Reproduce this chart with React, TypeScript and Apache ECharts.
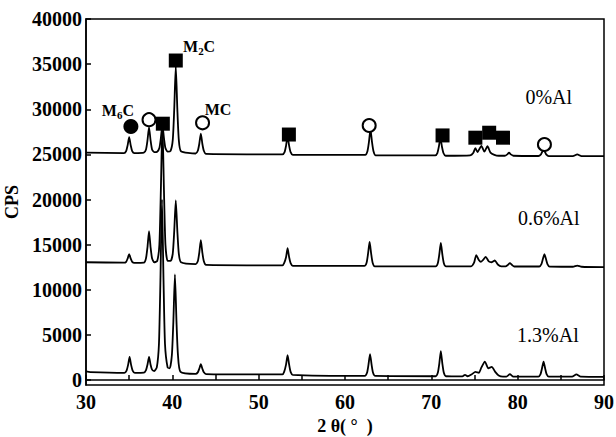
import React, { useEffect, useRef } from "react";
import * as echarts from "echarts";

// 2θ (°) vs CPS
const trace0Al: [number, number][] = [
  [30, 25200], [34.4, 25150], [34.65, 25370], [34.82, 26000], [35.0, 26900], [35.18, 26000], [35.35, 25370], [35.6, 25150],
  [36.7, 25200], [36.95, 25550], [37.12, 26550], [37.3, 28000], [37.48, 26550], [37.65, 25550], [37.9, 25250],
  [38.25, 25300], [38.5, 25700], [38.67, 26800], [38.85, 28300], [39.03, 26800], [39.2, 25700], [39.45, 25300],
  [39.8, 25400], [40.05, 26600], [40.22, 30000], [40.4, 34800], [40.58, 30000], [40.75, 26600], [41.0, 25350],
  [42.7, 25100], [42.95, 25400], [43.12, 26150], [43.3, 27300], [43.48, 26150], [43.65, 25400], [43.9, 25050],
  [52.75, 25000], [53.0, 25250], [53.17, 25950], [53.35, 26950], [53.53, 25950], [53.7, 25250], [53.95, 24950],
  [62.35, 24950], [62.6, 25350], [62.77, 26350], [62.95, 27800], [63.13, 26350], [63.3, 25350], [63.55, 24900],
  [70.45, 24900], [70.7, 25150], [70.87, 25850], [71.05, 26800], [71.23, 25850], [71.4, 25150], [71.65, 24850],
  [74.5, 24900], [74.85, 25150], [75.1, 25700], [75.35, 25250], [75.8, 25950], [76.15, 25300], [76.5, 25900],
  [76.85, 25200], [77.3, 24950], [77.8, 24850],
  [78.5, 24850], [78.8, 25000], [79.0, 25200], [79.2, 25000], [79.5, 24850],
  [82.4, 24820], [82.7, 25000], [82.85, 25300], [83.0, 25500], [83.15, 25300], [83.3, 25000], [83.6, 24800],
  [86.4, 24800], [86.9, 25000], [87.4, 24800], [90, 24800],
];

const trace06Al: [number, number][] = [
  [30, 13050], [34.4, 13000], [34.65, 13100], [34.82, 13450], [35.0, 13950], [35.18, 13450], [35.35, 13100], [35.6, 12980],
  [36.7, 13000], [36.95, 13500], [37.12, 14700], [37.3, 16500], [37.48, 14700], [37.65, 13500], [37.9, 13050],
  [38.25, 13200], [38.5, 15000], [38.67, 21000], [38.85, 28500], [39.03, 21000], [39.2, 15000], [39.45, 13200],
  [39.8, 13200], [40.05, 14000], [40.22, 16500], [40.4, 19900], [40.58, 16500], [40.75, 14000], [41.0, 13050],
  [42.7, 12850], [42.95, 13150], [43.12, 14100], [43.3, 15500], [43.48, 14100], [43.65, 13150], [43.9, 12750],
  [52.75, 12700], [52.95, 12950], [53.17, 13600], [53.35, 14600], [53.53, 13600], [53.7, 12950], [53.95, 12650],
  [62.25, 12650], [62.5, 13000], [62.67, 14000], [62.85, 15300], [63.03, 14000], [63.2, 13000], [63.45, 12600],
  [70.5, 12600], [70.75, 12950], [70.92, 13900], [71.1, 15200], [71.28, 13900], [71.45, 12950], [71.7, 12600],
  [74.6, 12600], [74.95, 13000], [75.2, 13850], [75.5, 13300], [75.75, 13100], [76.0, 13300], [76.3, 13650],
  [76.65, 13150], [77.0, 13050], [77.35, 13250], [77.7, 12800], [78.1, 12600],
  [78.6, 12600], [78.85, 12750], [79.1, 12950], [79.35, 12750], [79.6, 12580],
  [82.5, 12580], [82.75, 12850], [82.92, 13400], [83.1, 13950], [83.28, 13400], [83.45, 12850], [83.7, 12560],
  [86.4, 12550], [86.9, 12680], [87.4, 12550], [90, 12500],
];

const trace13Al: [number, number][] = [
  [30, 950], [30.5, 880], [34.45, 800], [34.7, 1050], [34.87, 1650], [35.05, 2550], [35.23, 1650], [35.4, 1050], [35.65, 800],
  [36.7, 820], [36.95, 1100], [37.12, 1700], [37.3, 2550], [37.48, 1700], [37.65, 1150], [37.9, 1000],
  [38.2, 1400], [38.45, 4000], [38.62, 11000], [38.8, 20000], [38.98, 11000], [39.15, 4000], [39.45, 1400],
  [39.7, 1300], [39.95, 2800], [40.12, 6500], [40.3, 11700], [40.48, 6500], [40.65, 2800], [40.95, 900],
  [42.7, 680], [42.95, 850], [43.12, 1250], [43.3, 1770], [43.48, 1250], [43.65, 850], [43.9, 660],
  [52.75, 620], [52.95, 900], [53.17, 1700], [53.35, 2750], [53.53, 1700], [53.7, 900], [53.95, 580],
  [62.3, 460], [62.55, 800], [62.72, 1700], [62.9, 2880], [63.08, 1700], [63.25, 800], [63.5, 450],
  [70.5, 420], [70.75, 800], [70.92, 1800], [71.1, 3200], [71.28, 1800], [71.45, 800], [71.7, 420],
  [73.6, 400], [73.9, 580], [74.2, 420], [74.7, 650], [75.1, 900], [75.5, 800], [75.8, 1400], [76.2, 2050],
  [76.6, 1300], [77.0, 1450], [77.4, 900], [77.8, 500], [78.3, 380],
  [78.7, 380], [79.1, 650], [79.5, 380],
  [82.4, 380], [82.65, 650], [82.82, 1300], [83.0, 2050], [83.18, 1300], [83.35, 650], [83.6, 380],
  [86.3, 380], [86.8, 620], [87.3, 380], [90, 350],
];

// phase markers
const m6cPoints: [number, number][] = [[35.2, 28100]];
const mcPoints: [number, number][] = [[37.3, 28850], [43.5, 28500], [62.8, 28200], [83.1, 26100]];
const m2cPoints: [number, number][] = [
  [38.9, 28400], [40.4, 35400], [53.5, 27200], [71.3, 27100],
  [75.1, 26850], [78.3, 26850], [76.7, 27400],
];

// annotation labels
const phaseLabels: { pos: [number, number]; text: string }[] = [
  { pos: [33.7, 29900], text: "{a|M}{s|6}{a|C}" },
  { pos: [43.1, 36900], text: "{a|M}{s|2}{a|C}" },
  { pos: [45.3, 30000], text: "{a|MC}" },
];
const traceLabels: { pos: [number, number]; text: string }[] = [
  { pos: [83.6, 31350], text: "0%Al" },
  { pos: [83.6, 17950], text: "0.6%Al" },
  { pos: [83.5, 4990], text: "1.3%Al" },
];

const yTicks = [0, 5000, 10000, 15000, 20000, 25000, 30000, 35000, 40000];

const FONT = "'Liberation Serif', 'DejaVu Serif', serif";

export default function App() {
  const ref = useRef<HTMLDivElement>(null);
  useEffect(() => {
    if (!ref.current) return;
    const chart = echarts.init(ref.current, undefined, { renderer: "svg" });
    const lineSeries = (data: [number, number][]) => ({
      type: "line",
      data,
      showSymbol: false,
      smooth: 0.2,
      lineStyle: { color: "#000", width: 1.8 },
      z: 2,
    });
    chart.setOption({
      animation: false,
      backgroundColor: "#fff",
      textStyle: { fontFamily: FONT },
      grid: {
        left: 86, right: 12, top: 19, bottom: 52,
        outerBoundsMode: "none",
        containLabel: false,
        show: true, borderColor: "#000", borderWidth: 1.5,
      },
      xAxis: {
        type: "value",
        min: 30, max: 90, interval: 5,
        name: "2 θ( °  )",
        nameLocation: "middle",
        nameGap: 27,
        nameTextStyle: { fontFamily: FONT, fontSize: 18, fontWeight: "bold", color: "#000" },
        axisLine: { lineStyle: { color: "#000", width: 1.5 } },
        axisTick: { show: true, inside: true, length: 5, lineStyle: { color: "#000", width: 1.5 } },
        axisLabel: {
          fontFamily: FONT, fontSize: 20, fontWeight: "bold", color: "#000", margin: 7,
          formatter: (v: number) => (v % 10 === 0 ? String(v) : ""),
        },
        splitLine: { show: false },
      },
      yAxis: {
        type: "value",
        min: -550, max: 40000,
        name: "CPS",
        nameLocation: "middle",
        nameGap: 63,
        nameTextStyle: { fontFamily: FONT, fontSize: 18, fontWeight: "bold", color: "#000" },
        axisLine: { show: true, lineStyle: { color: "#000", width: 1.5 } },
        axisTick: { show: true, inside: true, length: 5, customValues: yTicks, lineStyle: { color: "#000", width: 1.5 } },
        axisLabel: {
          fontFamily: FONT, fontSize: 20, fontWeight: "bold", color: "#000", margin: 4,
          customValues: yTicks,
          formatter: (v: number) => String(v),
        },
        splitLine: { show: false },
      },
      series: [
        lineSeries(trace0Al),
        lineSeries(trace06Al),
        lineSeries(trace13Al),
        {
          type: "scatter", data: m2cPoints, symbol: "rect", symbolSize: 14,
          itemStyle: { color: "#000", opacity: 1 }, z: 5,
        },
        {
          type: "scatter", data: m6cPoints, symbol: "circle", symbolSize: 15,
          itemStyle: { color: "#000", opacity: 1 }, z: 5,
        },
        {
          type: "scatter", data: mcPoints, symbol: "circle", symbolSize: 13,
          itemStyle: { color: "#fff", borderColor: "#000", borderWidth: 2, opacity: 1 }, z: 5,
        },
        {
          type: "scatter",
          data: phaseLabels.map((d) => ({ value: d.pos, text: d.text })),
          symbolSize: 0,
          itemStyle: { color: "transparent", opacity: 1 },
          z: 6,
          label: {
            show: true, position: "inside", opacity: 1,
            formatter: (p: any) => p.data.text,
            rich: {
              a: { fontFamily: FONT, fontSize: 16, fontWeight: "bold", color: "#000" },
              s: { fontFamily: FONT, fontSize: 11, fontWeight: "bold", color: "#000", padding: [9, 0, 0, 0] },
            },
          },
        },
        {
          type: "scatter",
          data: traceLabels.map((d) => ({ value: d.pos, text: d.text })),
          symbolSize: 0,
          itemStyle: { color: "transparent", opacity: 1 },
          z: 6,
          label: {
            show: true, position: "inside", opacity: 1,
            formatter: (p: any) => p.data.text,
            fontFamily: FONT, fontSize: 20, color: "#000",
          },
        },
      ],
    });
    return () => chart.dispose();
  }, []);
  return (
    <div
      ref={ref}
      style={{ position: "fixed", left: 0, top: 0, width: 616, height: 437 }}
    />
  );
}
